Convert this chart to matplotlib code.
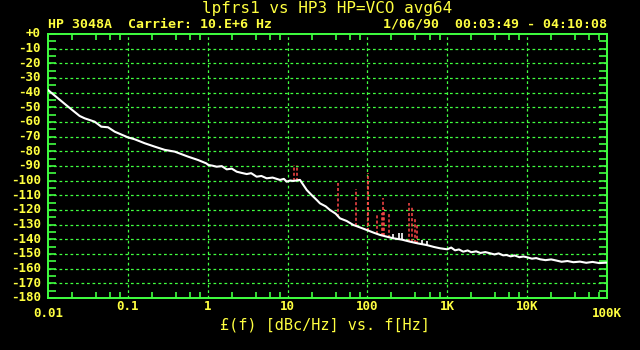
import matplotlib
matplotlib.use("Agg")
import matplotlib.pyplot as plt

# ---------------------------------------------------------------------
# Data read off the HP 3048A screen dump
# ---------------------------------------------------------------------
freq = [0.01, 0.0133, 0.0178, 0.0249, 0.0288, 0.0384, 0.0465, 0.0564, 0.0684,
        0.1004, 0.1218, 0.1625, 0.2168, 0.289, 0.386, 0.566, 0.755, 0.959,
        1.017, 1.15, 1.295, 1.5, 1.73, 2.0, 2.31, 2.7, 3.08, 3.5, 4.1, 4.7,
        5.48, 6.5, 8.04, 9.0, 9.75, 10.8, 11.8,
        14.3, 15.8, 17.4, 20.0, 23.2, 25.5, 30.0, 34.0, 40.0, 45.3, 55.0,
        66.5, 80.0, 97.7, 120, 143.6, 175, 211, 270, 341, 430, 552, 680, 811,
        1000, 1120, 1250, 1400, 1585, 1800, 2000, 2300, 2600, 3000, 3430,
        3900, 4400, 5000, 5540, 6200, 7000, 8000, 9000, 10050, 11500, 13000,
        14500, 17000, 20000, 23400, 27000, 32000, 38000, 45900, 55000, 66000,
        80000, 99100]
noise = [-38.2, -43.8, -49.5, -55.9, -57.5, -59.8, -63.2, -63.6, -66.6,
         -70.5, -71.8, -74.5, -76.8, -79.0, -80.2, -83.6, -85.9, -88.2,
         -89.3, -89.8, -90.5, -90.1, -92.3, -91.8, -93.9, -94.8, -95.5, -94.9,
         -97.3, -96.8, -98.4, -97.9, -99.5, -98.8, -100.7, -99.9, -100.2,
         -99.5, -103.0, -106.4, -109.8, -113.2, -115.5, -117.5, -120.0, -122.5,
         -125.7, -127.5, -130.2, -131.8, -133.6, -135.5, -137.0, -138.2, -139.3,
         -140.2, -141.6, -142.8, -143.9, -145.2, -146.1,
         -146.8, -145.6, -147.5, -146.9, -148.4, -147.6, -148.8, -148.2, -149.3,
         -148.7, -149.5, -150.3, -149.6, -150.9, -150.7, -151.6, -151.0, -152.2,
         -151.7, -152.3, -153.2, -152.8, -153.6, -154.2, -153.7, -154.5, -155.3,
         -154.8, -155.6, -155.2, -156.0, -155.4, -156.2, -155.9]

# discrete spurs (red dashed): frequency, top level, noise level under it
spur_f = [12.0, 13.1, 43.1, 72.6, 100.7, 103.0, 130.6, 150.7, 158.0, 162.6,
          187.8, 331, 364.5, 390.8, 414]
spur_top = [-89.3, -89.3, -101.8, -105.7, -95.0, -100.0, -122.7, -122.0, -112.0,
            -119.4, -122.7, -115.0, -117.3, -126.0, -129.5]
spur_base = [-100.5, -100.5, -125.0, -131.0, -134.0, -134.0, -136.5, -137.5, -138.0,
             -138.0, -139.0, -141.5, -142.0, -142.5, -143.0]

# small white excursions of the measured trace
blip_f = [211, 250, 270, 480, 560]
blip_top = [-136.5, -135.5, -136.0, -140.5, -141.0]
blip_base = [-139.3, -140.2, -140.6, -143.5, -144.2]

xtick_pos = [0.01, 0.1, 1, 10, 100, 1000, 10000, 100000]
xtick_lab = ["0.01", "0.1", "1", "10", "100", "1K", "10K", "100K"]
ytick_pos = list(range(0, -190, -10))
ytick_lab = ["+0"] + [str(v) for v in ytick_pos[1:]]

# ---------------------------------------------------------------------
# Style
# ---------------------------------------------------------------------
BG = "black"
GREEN = "#40ff40"
YELLOW = "#ffff40"
RED = "#ff4848"
MONO = "DejaVu Sans Mono"

fig = plt.figure(figsize=(6.4, 3.5), dpi=100, facecolor=BG)
ax = fig.add_axes([0.075, 0.1486, 0.8734, 0.7543], facecolor=BG)

ax.set_xscale("log")
ax.set_xlim(0.01, 100000)
ax.set_ylim(-180, 0)

# grid
for x in xtick_pos[1:-1]:
    ax.axvline(x, color=GREEN, lw=0.9, ls=(0, (2.2, 2.2)), zorder=1)
for y in ytick_pos[1:-1]:
    ax.axhline(y, color=GREEN, lw=0.9, ls=(0, (2.2, 2.2)), zorder=1)

for s in ax.spines.values():
    s.set_color(GREEN)
    s.set_linewidth(1.4)

# ticks: decades carry no tick, 2/4/6/8 minor ticks in, 5 dB ticks in
minor_x = [m * 10.0 ** d for d in range(-2, 5) for m in (2, 4, 6, 8)]
ax.set_xticks(xtick_pos)
ax.set_xticklabels([])
ax.set_xticks(minor_x, minor=True)
ax.tick_params(axis="x", which="major", length=0)
ax.tick_params(axis="x", which="minor", direction="in", length=4.5,
               width=1.2, color=GREEN, top=True, bottom=True, labelbottom=False)
ax.set_yticks(list(range(0, -185, -5)))
ax.set_yticklabels([])
ax.tick_params(axis="y", which="both", direction="in", length=5.5, width=1.2,
               color=GREEN, left=True, right=True)

# y labels
for y, lab in zip(ytick_pos, ytick_lab):
    ax.annotate(lab, xy=(0, y), xycoords=("axes fraction", "data"),
                xytext=(-5, 0), textcoords="offset points", ha="right",
                va="center", color=YELLOW, fontsize=9, fontweight="bold",
                family=MONO)

# x labels (first and last sit lower, as on the instrument)
for i, (x, lab) in enumerate(zip(xtick_pos, xtick_lab)):
    off = -11 if i in (0, len(xtick_pos) - 1) else -6
    ax.annotate(lab, xy=(x, 0), xycoords=("data", "axes fraction"),
                xytext=(0, off), textcoords="offset points", ha="center",
                va="center", color=YELLOW, fontsize=9, fontweight="bold",
                family=MONO)

# ---------------------------------------------------------------------
# Traces
# ---------------------------------------------------------------------
ax.vlines(spur_f, spur_base, spur_top, colors=RED, lw=1.1,
          linestyles=(0, (2.0, 1.4)), zorder=3)
ax.plot(freq, noise, color="white", lw=1.5, zorder=4)
ax.vlines(blip_f, blip_base, blip_top, colors="white", lw=1.2, zorder=4)

# ---------------------------------------------------------------------
# Header / footer text
# ---------------------------------------------------------------------
fig.text(327 / 640, 1 - 9 / 350, "lpfrs1 vs HP3 HP=VCO avg64", ha="center",
         va="center", color=YELLOW, fontsize=11.5, family=MONO)
fig.text(48 / 640, 1 - 24 / 350, "HP 3048A  Carrier: 10.E+6 Hz", ha="left",
         va="center", color=YELLOW, fontsize=9.5, fontweight="bold", family=MONO)
fig.text(607 / 640, 1 - 24 / 350, "1/06/90  00:03:49 - 04:10:08", ha="right",
         va="center", color=YELLOW, fontsize=9.5, fontweight="bold", family=MONO)
fig.text(325 / 640, 1 - 325 / 350, "£(f) [dBc/Hz] vs. f[Hz]", ha="center",
         va="center", color=YELLOW, fontsize=11, family=MONO)

fig.savefig("out.png", dpi=100, facecolor=BG)
